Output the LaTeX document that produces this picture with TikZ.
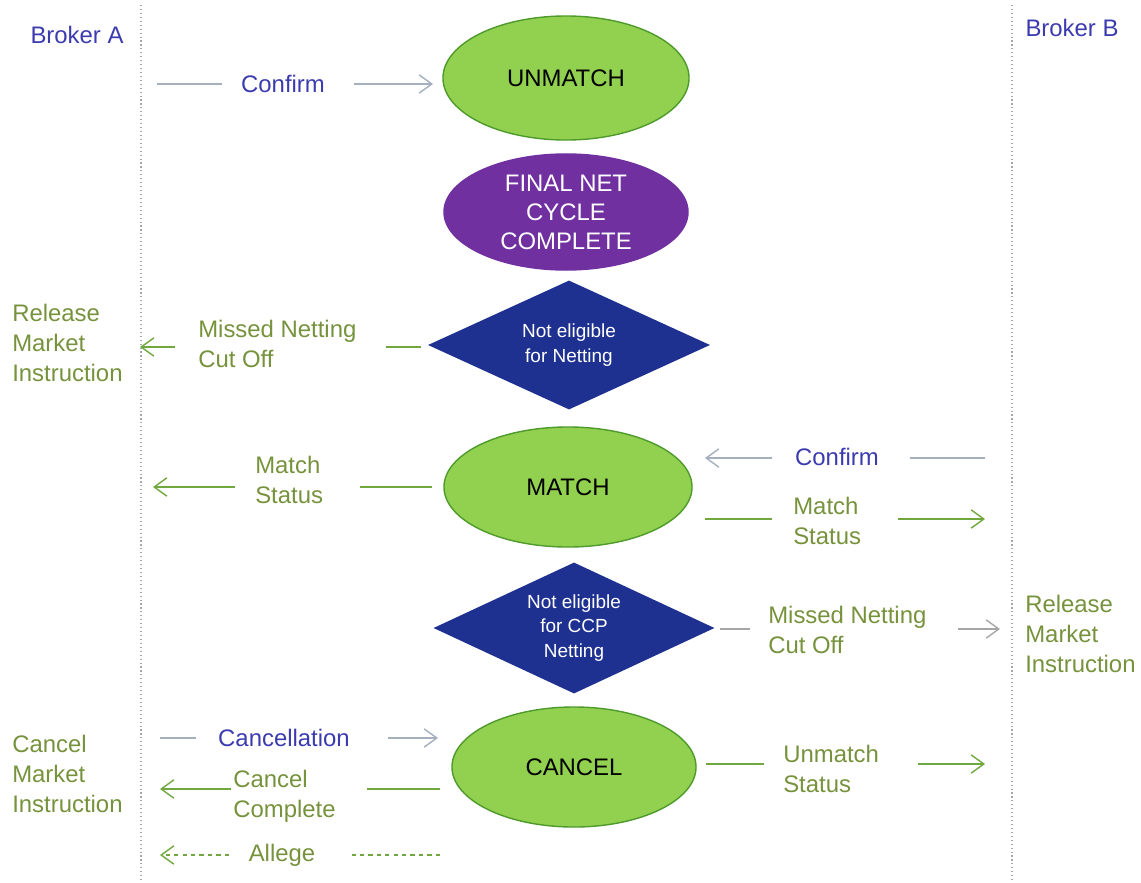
\documentclass[tikz,border=0pt]{standalone}
\usepackage{fontspec}
\setmainfont{Liberation Sans}
\usetikzlibrary{shapes.geometric,arrows.meta}
\definecolor{brkblue}{HTML}{3B3BAF}
\definecolor{msggreen}{HTML}{76923C}
\definecolor{linegreen}{HTML}{70A83F}
\definecolor{lineblue}{HTML}{A5AFBD}
\definecolor{linegray}{HTML}{A6A6A6}
\definecolor{stategreen}{HTML}{92D050}
\definecolor{stateedge}{HTML}{4E9A2A}
\definecolor{cyclepurple}{HTML}{7030A0}
\definecolor{checkblue}{HTML}{1E3190}

\begin{document}
\begin{tikzpicture}[x=0.025cm, y=-0.025cm,
	lbl/.style={font=\fontsize{17}{21.3}\selectfont, inner sep=0pt, align=left},
	bluelbl/.style={lbl, text=brkblue},
	grnlbl/.style={lbl, text=msggreen},
	state/.style={ellipse, draw=stateedge, fill=stategreen, line width=1pt, inner sep=0pt,
		font=\fontsize{17}{20.6}\selectfont, align=center},
	check/.style={diamond, fill=checkblue, inner sep=0pt},
	checktext/.style={text=white, inner sep=0pt, font=\fontsize{13.5}{17.5}\selectfont, align=center},
	tip/.style={-{Straight Barb[length=9pt,width=13pt]}},
	bline/.style={draw=lineblue, line width=1pt},
	gline/.style={draw=linegreen, line width=1pt},
	kline/.style={draw=linegray, line width=1pt},
	lane/.style={draw=black!35, dotted, line width=0.8pt}]
	\useasboundingbox (0,0) rectangle (1141,882);

	% swim lanes
	\coordinate (laneAtop) at (141,5);
	\coordinate (laneAbot) at (141,882);
	\coordinate (laneBtop) at (1012,5);
	\coordinate (laneBbot) at (1012,882);
	\draw [lane] (laneAtop) -- (laneAbot);
	\draw [lane] (laneBtop) -- (laneBbot);

	\node [bluelbl] (brokerA) at (77,35) {Broker A};
	\node [bluelbl] (brokerB) at (1072,28) {Broker B};

	% states
	\node [state, minimum width=6.15cm, minimum height=3.1cm] (unmatch) at (566,78) {UNMATCH};
	\node [state, draw=cyclepurple, fill=cyclepurple, text=white, minimum width=6.1cm, minimum height=2.9cm] (final) at (566,212) {FINAL NET\\CYCLE\\COMPLETE};
	\node [check, minimum width=7.05cm, minimum height=3.225cm] (notnet) at (569,345) {};
	\node [checktext] (notnettext) at (notnet) {Not eligible\\for Netting};
	\node [state, minimum width=6.2cm, minimum height=3cm] (match) at (568,487) {MATCH};
	\node [check, minimum width=7.025cm, minimum height=3.275cm] (notccp) at (574,628) {};
	\node [checktext] (notccptext) at (notccp) {Not eligible\\for CCP\\Netting};
	\node [state, minimum width=6.1cm, minimum height=3cm] (cancel) at (574,767) {CANCEL};

	% messages, broker A side
	\node [bluelbl] (confA) at (283,84) {Confirm};
	\node [grnlbl, anchor=west] (relA) at (12,343) {Release\\Market\\Instruction};
	\node [grnlbl, anchor=west] (missA) at (198,344) {Missed Netting\\Cut Off};
	\node [grnlbl, anchor=west] (mstA) at (255,480) {Match\\Status};
	\node [grnlbl, anchor=west] (canA) at (12,774) {Cancel\\Market\\Instruction};
	\node [bluelbl] (cancl) at (284,738) {Cancellation};
	\node [grnlbl, anchor=west] (cancc) at (233,796) {Cancel\\Complete};
	\node [grnlbl] (allege) at (282,855) {Allege};

	% messages, broker B side
	\node [bluelbl] (confB) at (837,457) {Confirm};
	\node [grnlbl, anchor=west] (mstB) at (793,521) {Match\\Status};
	\node [grnlbl, anchor=west] (missB) at (768,630) {Missed Netting\\Cut Off};
	\node [grnlbl, anchor=west] (relB) at (1025,634) {Release\\Market\\Instruction};
	\node [grnlbl, anchor=west] (unmst) at (783,769) {Unmatch\\Status};

	% line ends
	\coordinate (cA0) at (157,84);   \coordinate (cA1) at (222,84);
	\coordinate (cA2) at (354,84);   \coordinate (cA3) at (433,84);
	\coordinate (mA0) at (421,347);  \coordinate (mA1) at (386,347);
	\coordinate (mA2) at (175,347);  \coordinate (mA3) at (140,347);
	\coordinate (sA0) at (432,487);  \coordinate (sA1) at (360,487);
	\coordinate (sA2) at (235,487);  \coordinate (sA3) at (153,487);
	\coordinate (cB0) at (985,458);  \coordinate (cB1) at (910,458);
	\coordinate (cB2) at (772,458);  \coordinate (cB3) at (705,458);
	\coordinate (sB0) at (705,519);  \coordinate (sB1) at (772,519);
	\coordinate (sB2) at (898,519);  \coordinate (sB3) at (985,519);
	\coordinate (mB0) at (720,629);  \coordinate (mB1) at (750,629);
	\coordinate (mB2) at (958,629);  \coordinate (mB3) at (1000,629);
	\coordinate (xA0) at (160,738);  \coordinate (xA1) at (196,738);
	\coordinate (xA2) at (388,738);  \coordinate (xA3) at (438,738);
	\coordinate (kA0) at (440,789);  \coordinate (kA1) at (367,789);
	\coordinate (kA2) at (231,789);  \coordinate (kA3) at (160,789);
	\coordinate (aA0) at (440,855);  \coordinate (aA1) at (352,855);
	\coordinate (aA2) at (229,855);  \coordinate (aA3) at (160,855);
	\coordinate (uB0) at (706,764);  \coordinate (uB1) at (764,764);
	\coordinate (uB2) at (918,764);  \coordinate (uB3) at (985,764);

	\draw [bline] (cA0) -- (cA1);
	\draw [bline, tip] (cA2) -- (cA3);
	\draw [gline] (mA0) -- (mA1);
	\draw [gline, tip] (mA2) -- (mA3);
	\draw [gline] (sA0) -- (sA1);
	\draw [gline, tip] (sA2) -- (sA3);
	\draw [bline] (cB0) -- (cB1);
	\draw [bline, tip] (cB2) -- (cB3);
	\draw [gline] (sB0) -- (sB1);
	\draw [gline, tip] (sB2) -- (sB3);
	\draw [kline] (mB0) -- (mB1);
	\draw [kline, tip] (mB2) -- (mB3);
	\draw [bline] (xA0) -- (xA1);
	\draw [bline, tip] (xA2) -- (xA3);
	\draw [gline] (kA0) -- (kA1);
	\draw [gline, tip] (kA2) -- (kA3);
	\draw [gline, dashed] (aA0) -- (aA1);
	\draw [gline, dashed, tip] (aA2) -- (aA3);
	\draw [gline] (uB0) -- (uB1);
	\draw [gline, tip] (uB2) -- (uB3);
\end{tikzpicture}
\end{document}
